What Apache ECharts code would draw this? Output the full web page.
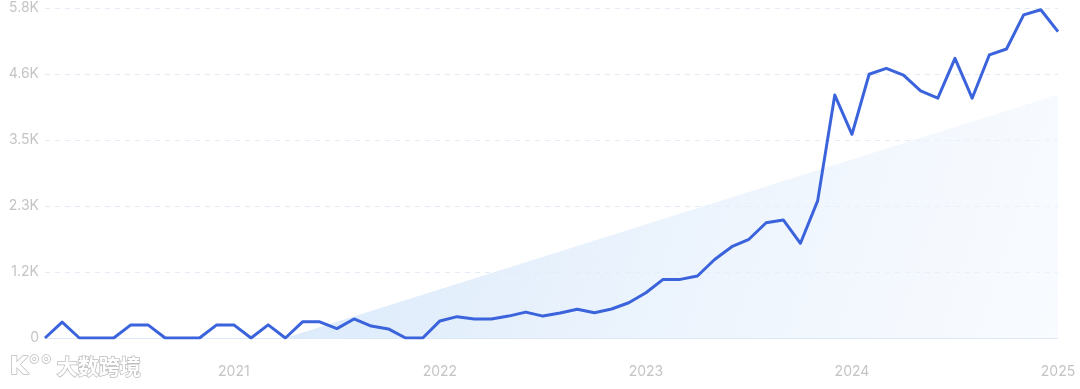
<!DOCTYPE html>
<html>
<head>
<meta charset="utf-8">
<script src="https://cdn.jsdelivr.net/npm/echarts@6/dist/echarts.min.js"></script>
<style>
html,body{margin:0;padding:0;background:#fff;}
#chart{width:1080px;height:389px;}
</style>
</head>
<body>
<div id="chart"></div>
<script>
// Monthly categories Feb 2020 .. Jan 2025
const months = [
 "2020-02","2020-03","2020-04","2020-05","2020-06","2020-07","2020-08","2020-09","2020-10","2020-11","2020-12",
 "2021-01","2021-02","2021-03","2021-04","2021-05","2021-06","2021-07","2021-08","2021-09","2021-10","2021-11","2021-12",
 "2022-01","2022-02","2022-03","2022-04","2022-05","2022-06","2022-07","2022-08","2022-09","2022-10","2022-11","2022-12",
 "2023-01","2023-02","2023-03","2023-04","2023-05","2023-06","2023-07","2023-08","2023-09","2023-10","2023-11","2023-12",
 "2024-01","2024-02","2024-03","2024-04","2024-05","2024-06","2024-07","2024-08","2024-09","2024-10","2024-11","2024-12",
 "2025-01"
];
const searches = [
 0,280,0,0,0,230,230,0,0,0,230,
 230,0,230,0,285,285,165,335,210,160,0,0,
 300,375,335,335,385,455,385,440,505,445,510,620,
 795,1030,1030,1090,1380,1605,1735,2025,2075,1665,2410,4270,
 3580,4635,4740,4620,4345,4215,4915,4215,4975,5080,5680,5770,
 5385
];
// Trend band: start (zero) and end value
const trendStartIndex = 14;
const trendStartValue = 0;
const trendEndValue = 4280;
const yTicks = ["0","1.2K","2.3K","3.5K","4.6K","5.8K"];
const yMax = 5800;
const yInterval = 1160;

const trend = months.map((m,i)=> i===trendStartIndex ? trendStartValue : (i===months.length-1 ? trendEndValue : '-'));

const chart = echarts.init(document.getElementById('chart'));
chart.setOption({
  animation:false,
  grid:{left:45,right:22,top:8,bottom:51},
  xAxis:{
    type:'category',
    data:months,
    boundaryGap:false,
    axisLine:{show:true,lineStyle:{color:'#dce9f7',width:1}},
    axisTick:{show:false},
    splitLine:{show:false},
    axisLabel:{
      color:'#c4c4c4',fontSize:14,fontFamily:'Inter, Roboto, sans-serif',margin:27,
      interval:(idx,val)=>val.endsWith('-01'),
      formatter:(val)=>val.slice(0,4)
    }
  },
  yAxis:{
    type:'value',min:0,max:yMax,interval:yInterval,
    axisLine:{show:false},axisTick:{show:false},
    splitLine:{show:true,lineStyle:{color:'#e3ecf6',type:[5,5],width:1}},
    axisLabel:{
      color:'#c4c4c4',fontSize:14,fontFamily:'Inter, Roboto, sans-serif',margin:6,
      formatter:(v)=>yTicks[Math.round(v/yInterval)]
    }
  },
  series:[
    {
      type:'line',data:trend,connectNulls:true,symbol:'none',
      lineStyle:{width:0},
      areaStyle:{
        color:new echarts.graphic.LinearGradient(0,0,1,1,[
          {offset:0,color:'rgba(214,231,250,0.95)'},
          {offset:1,color:'rgba(242,247,254,0.5)'}
        ]),
        opacity:1
      },
      z:1
    },
    {
      type:'line',data:searches,symbol:'none',
      lineStyle:{color:'#3a63dc',width:3,join:'round'},
      z:3
    }
  ],
  graphic:[
    {
      type:'text',left:9,top:355,
      style:{
        text:'K°°',
        fill:'#ffffff',stroke:'#bdbdbd',lineWidth:1.5,
        font:'bold 24px "DejaVu Sans", sans-serif'
      },
      z:10
    },
    {
      type:'text',left:56,top:355,
      style:{
        text:'大数跨境',
        fill:'#ffffff',stroke:'#bdbdbd',lineWidth:1.5,
        font:'bold 21px "Noto Sans CJK SC", sans-serif'
      },
      z:10
    }
  ]
});
</script>
</body>
</html>
